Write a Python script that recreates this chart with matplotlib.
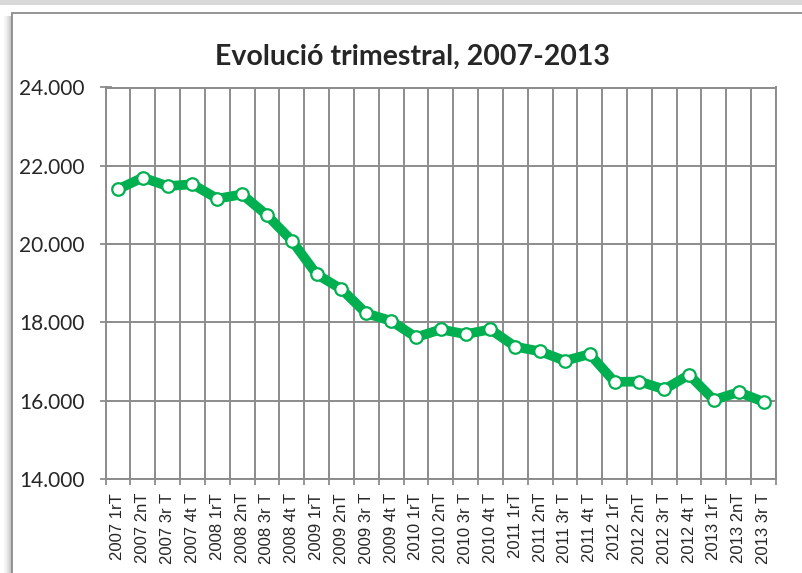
import matplotlib
matplotlib.use("Agg")
import matplotlib.pyplot as plt
from matplotlib.patches import Rectangle
from matplotlib.ticker import FixedLocator, FuncFormatter

# dades llegides del grafic
quarters = ["2007 1rT", "2007 2nT", "2007 3r T", "2007 4t T",
            "2008 1rT", "2008 2nT", "2008 3r T", "2008 4t T",
            "2009 1rT", "2009 2nT", "2009 3r T", "2009 4t T",
            "2010 1rT", "2010 2nT", "2010 3r T", "2010 4t T",
            "2011 1rT", "2011 2nT", "2011 3r T", "2011 4t T",
            "2012 1rT", "2012 2nT", "2012 3r T", "2012 4t T",
            "2013 1rT", "2013 2nT", "2013 3r T"]
values = [21400, 21700, 21480, 21530, 21160, 21270, 20740, 20090,
          19230, 18850, 18230, 18040, 17620, 17820, 17700, 17820,
          17380, 17260, 17020, 17190, 16480, 16490, 16290, 16660,
          16020, 16220, 15970]
yticks = [14000, 16000, 18000, 20000, 22000, 24000]

W, H = 802, 573
fig = plt.figure(figsize=(W / 100, H / 100), dpi=100)
fig.patch.set_facecolor("white")

def px(x, y, w, h):
    # rectangle en pixels (origen a dalt a l'esquerra) -> coordenades de figura
    return (x / W, 1 - (y + h) / H), w / W, h / H

# banda grisa de dalt i ombra de l'esquerra
xy, w, h = px(0, 0, W, 5)
fig.add_artist(Rectangle(xy, w, h, transform=fig.transFigure, color="#d9d9d9",
                         lw=0, zorder=-5))
for i, a in enumerate([0.05, 0.08, 0.12, 0.17, 0.23, 0.3, 0.38, 0.46]):
    xy, w, h = px(4 + i, 16, 1, H - 16)
    fig.add_artist(Rectangle(xy, w, h, transform=fig.transFigure, color="#707070",
                             alpha=a, lw=0, zorder=-5))
# vora del requadre del grafic
xy, w, h = px(12, 13, W, H)
fig.add_artist(Rectangle(xy, w, h, transform=fig.transFigure, facecolor="white",
                         edgecolor="#8c8c8c", lw=1.3, zorder=-4))

ax = fig.add_axes([105.5 / W, 94 / H, 670.5 / W, 391.5 / H])
ax.set_facecolor("none")

x = list(range(len(values)))
ax.plot(x, values, color="#00b050", linewidth=7, solid_joinstyle="round",
        marker="o", markersize=9, markerfacecolor="white",
        markeredgecolor="#00b050", markeredgewidth=1.6, zorder=3)

ax.set_xlim(-0.5, len(values) - 0.5)
ax.set_ylim(14000, 24000)

gridc = "#8c8c8c"
ax.set_yticks(yticks)
ax.yaxis.set_major_formatter(FuncFormatter(lambda v, p: f"{int(v):,}".replace(",", ".")))
ax.set_xticks(x)
ax.set_xticklabels(quarters, rotation=90, fontsize=12, family="Liberation Sans",
                   color="#262626", va="top")
ax.xaxis.set_minor_locator(FixedLocator([i - 0.5 for i in range(len(values) + 1)]))
ax.tick_params(axis="x", which="major", length=0, pad=10)
ax.tick_params(axis="x", which="minor", direction="inout", length=8.5,
               width=1.3, color=gridc)
ax.tick_params(axis="y", direction="inout", length=8.5, width=1.3, color=gridc,
               pad=11, labelsize=15, labelcolor="#262626")
for lab in ax.get_yticklabels():
    lab.set_family("Lato")

ax.grid(True, axis="y", which="major", color=gridc, linewidth=1.4)
ax.grid(True, axis="x", which="minor", color=gridc, linewidth=1.4)
ax.set_axisbelow(True)
for s in ax.spines.values():
    s.set_color(gridc)
    s.set_linewidth(1.4)

fig.text(412.5 / W, 1 - 65 / H, "Evolució trimestral, 2007-2013", ha="center",
         va="baseline", fontsize=20.5, fontweight="bold", family="Lato",
         color="#262626")

fig.savefig("out.png", dpi=100)
